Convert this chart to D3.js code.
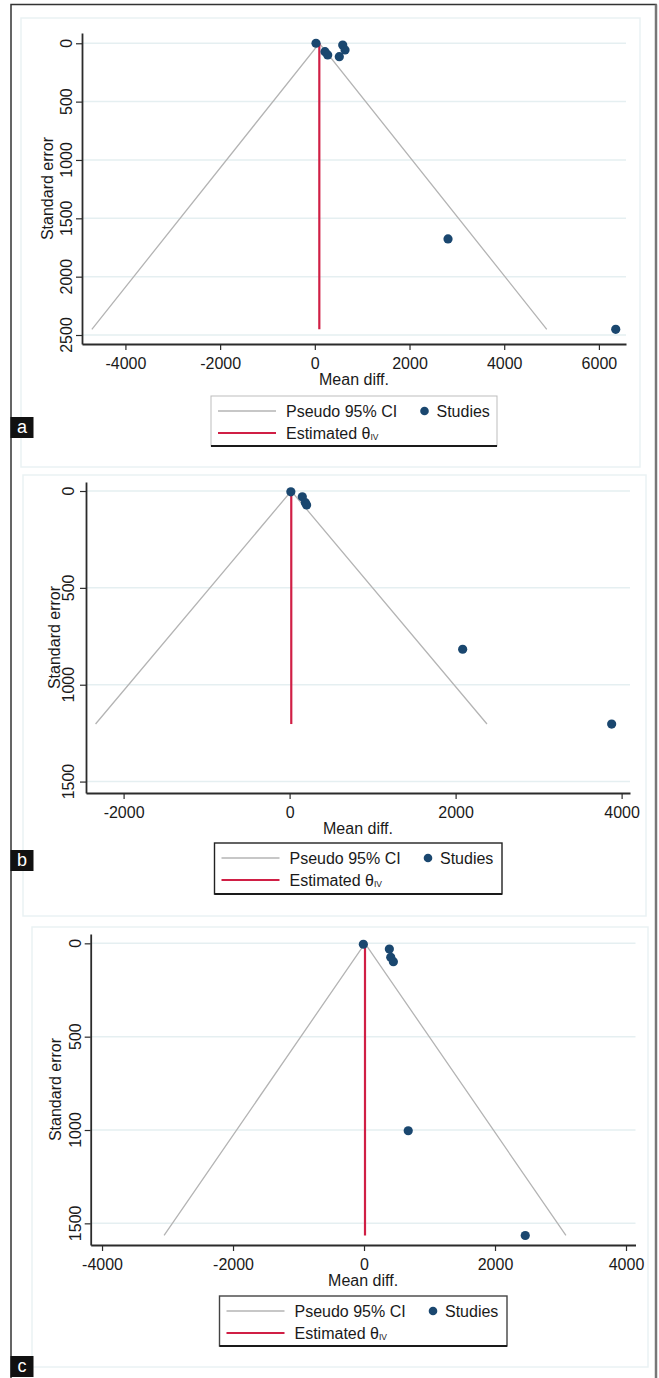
<!DOCTYPE html>
<html>
<head>
<meta charset="utf-8">
<script src="https://cdn.jsdelivr.net/npm/d3@7"></script>
<style>
  html, body { margin: 0; padding: 0; background: #fff; }
  svg { display: block; }
  text { font-family: "Liberation Sans", Arial, Helvetica, sans-serif; fill: #1a1a1a; }
</style>
</head>
<body>
<svg id="chart" width="659" height="1378"></svg>
<script>
// ---------------- DATA ----------------
// Panel a
const aMeanDiff = [25, 215, 272, 589, 638, 517, 2813, 6355];
const aSE       = [0, 72, 100, 15, 57, 115, 1677, 2451];
const aTheta    = 95;
const aXTicks   = [-4000, -2000, 0, 2000, 4000, 6000];
const aYTicks   = [0, 500, 1000, 1500, 2000, 2500];

// Panel b
const bMeanDiff = [15, 153, 190, 205, 2085, 3880];
const bSE       = [4, 30, 60, 72, 817, 1203];
const bTheta    = 20;
const bXTicks   = [-2000, 0, 2000, 4000];
const bYTicks   = [0, 500, 1000, 1500];

// Panel c
const cMeanDiff = [-10, 387, 408, 448, 675, 2462];
const cSE       = [5, 31, 75, 98, 1004, 1565];
const cTheta    = 15;
const cXTicks   = [-4000, -2000, 0, 2000, 4000];
const cYTicks   = [0, 500, 1000, 1500];

const panelLabels = ["a", "b", "c"];
const legendCI    = "Pseudo 95% CI";
const legendStudy = "Studies";
const legendEst   = "Estimated θ";
const legendSub   = "IV";
const xTitle      = "Mean diff.";
const yTitle      = "Standard error";
const z95         = 1.96;

// ---------------- LAYOUT ----------------
const panels = [
  { tag: panelLabels[0], md: aMeanDiff, se: aSE, theta: aTheta, xt: aXTicks, yt: aYTicks,
    xDom: [-4917, 6572], yDom: [-88, 2577], box: {l: 82, r: 626, t: 33, b: 344},
    yLabX: 71.5, yTitleX: 53, frame: [21, 18, 640, 467],
    legend: {x: 211, y: 396, w: 286, h: 50, style: "a"}, tagY: 417 },
  { tag: panelLabels[1], md: bMeanDiff, se: bSE, theta: bTheta, xt: bXTicks, yt: bYTicks,
    xDom: [-2453, 4101], yDom: [-46.5, 1559], box: {l: 86, r: 630, t: 482, b: 793},
    yLabX: 74, yTitleX: 60, frame: [23, 475, 646, 916],
    legend: {x: 214.5, y: 843, w: 287.5, h: 51, style: "b"}, tagY: 850 },
  { tag: panelLabels[2], md: cMeanDiff, se: cSE, theta: cTheta, xt: cXTicks, yt: cYTicks,
    xDom: [-4173, 4145], yDom: [-50, 1616], box: {l: 90.7, r: 635.5, t: 934, b: 1245},
    yLabX: 80.5, yTitleX: 61, frame: [32, 927, 648, 1367],
    legend: {x: 219.5, y: 1296, w: 287.5, h: 50, style: "c"}, tagY: 1356 }
];

const svg = d3.select("#chart");
const FS = 16;
const gridCol = "#e5eff1";
const axisCol = "#2b2b2b";
const navy = "#1a476f";
const red = "#d01f45";
const ciCol = "#b4b4b4";

// outer border
svg.append("rect").attr("x", 11).attr("y", 4.5).attr("width", 645).attr("height", 1390)
  .attr("fill", "none").attr("stroke", "#333").attr("stroke-width", 1.5);
svg.append("line").attr("x1", 656).attr("x2", 656).attr("y1", 4.5).attr("y2", 1378)
  .attr("stroke", "#777").attr("stroke-width", 2.5);

panels.forEach(p => {
  const g = svg.append("g");
  // light graph-region frame
  g.append("rect").attr("x", p.frame[0]).attr("y", p.frame[1])
    .attr("width", p.frame[2] - p.frame[0]).attr("height", p.frame[3] - p.frame[1])
    .attr("fill", "#fff").attr("stroke", "#eaf2f4").attr("stroke-width", 1.5);

  const x = d3.scaleLinear().domain(p.xDom).range([p.box.l, p.box.r]);
  const y = d3.scaleLinear().domain(p.yDom).range([p.box.t, p.box.b]);

  // gridlines
  g.selectAll(".grid").data(p.yt).enter().append("line")
    .attr("x1", p.box.l).attr("x2", p.box.r)
    .attr("y1", d => y(d)).attr("y2", d => y(d))
    .attr("stroke", gridCol).attr("stroke-width", 1.5);

  // funnel (pseudo 95% CI)
  const seMax = d3.max(p.se);
  const funnel = [[p.theta - z95 * seMax, seMax], [p.theta, 0], [p.theta + z95 * seMax, seMax]];
  g.append("path").datum(funnel)
    .attr("d", d3.line().x(d => x(d[0])).y(d => y(d[1])))
    .attr("fill", "none").attr("stroke", ciCol).attr("stroke-width", 1.3);

  // estimated theta line
  g.append("line").attr("x1", x(p.theta)).attr("x2", x(p.theta))
    .attr("y1", y(0)).attr("y2", y(seMax))
    .attr("stroke", red).attr("stroke-width", 2.2);

  // studies
  g.selectAll(".pt").data(p.md.map((m, i) => [m, p.se[i]])).enter().append("circle")
    .attr("cx", d => x(d[0])).attr("cy", d => y(d[1])).attr("r", 4.6)
    .attr("fill", navy);

  // x axis
  const xa = g.append("g").attr("transform", `translate(0,${p.box.b})`)
    .call(d3.axisBottom(x).tickValues(p.xt).tickFormat(d3.format("d")).tickSizeInner(6).tickSizeOuter(0).tickPadding(8));
  xa.select(".domain").attr("stroke", axisCol).attr("stroke-width", 1.8);
  xa.selectAll(".tick line").attr("stroke", axisCol).attr("stroke-width", 1.2);
  xa.selectAll(".tick text").attr("font-size", FS).attr("fill", "#1a1a1a")
    .attr("font-family", '"Liberation Sans", Arial, sans-serif').text(d => d < 0 ? "-" + Math.abs(d) : d);

  // y axis
  const ya = g.append("g").attr("transform", `translate(${p.box.l},0)`)
    .call(d3.axisLeft(y).tickValues(p.yt).tickSizeInner(6).tickSizeOuter(0).tickFormat(""));
  ya.select(".domain").attr("stroke", axisCol).attr("stroke-width", 1.8);
  ya.selectAll(".tick line").attr("stroke", axisCol).attr("stroke-width", 1.2);
  g.selectAll(".ylab").data(p.yt).enter().append("text")
    .attr("transform", d => `translate(${p.yLabX},${y(d)}) rotate(-90)`)
    .attr("text-anchor", "middle").attr("font-size", FS).text(d => d);

  // titles
  g.append("text").attr("x", (p.box.l + p.box.r) / 2).attr("y", p.box.b + 41)
    .attr("text-anchor", "middle").attr("font-size", FS).text(xTitle);
  g.append("text")
    .attr("transform", `translate(${p.yTitleX},${(p.box.t + p.box.b) / 2}) rotate(-90)`)
    .attr("text-anchor", "middle").attr("font-size", FS).text(yTitle);

  // legend
  const L = p.legend;
  const lg = g.append("g").attr("transform", `translate(${L.x},${L.y})`);
  const sideCol = L.style === "a" ? "#bdbdbd" : (L.style === "b" ? "#222" : "#444");
  lg.append("rect").attr("x", 0).attr("y", 0).attr("width", L.w).attr("height", L.h)
    .attr("fill", "#fff").attr("stroke", sideCol).attr("stroke-width", L.style === "a" ? 1 : 1.4);
  lg.append("line").attr("x1", 0).attr("x2", L.w).attr("y1", L.h).attr("y2", L.h)
    .attr("stroke", "#1a1a1a").attr("stroke-width", 2);
  const r1 = 15, r2 = 37;
  lg.append("line").attr("x1", 7).attr("x2", 65).attr("y1", r1).attr("y2", r1)
    .attr("stroke", ciCol).attr("stroke-width", 1.5);
  lg.append("text").attr("x", 75).attr("y", r1 + 5.5).attr("font-size", FS).text(legendCI);
  lg.append("circle").attr("cx", 213.5).attr("cy", r1).attr("r", 4.3).attr("fill", navy);
  lg.append("text").attr("x", 225.5).attr("y", r1 + 5.5).attr("font-size", FS).text(legendStudy);
  lg.append("line").attr("x1", 7).attr("x2", 65).attr("y1", r2).attr("y2", r2)
    .attr("stroke", red).attr("stroke-width", 2);
  const et = lg.append("text").attr("x", 75).attr("y", r2 + 5.5).attr("font-size", FS);
  et.append("tspan").text(legendEst);
  et.append("tspan").attr("font-size", 8.5).attr("dy", 1.5).text(legendSub);

  // panel tag
  svg.append("rect").attr("x", 10.5).attr("y", p.tagY).attr("width", 23).attr("height", 21)
    .attr("fill", "#111");
  svg.append("text").attr("x", 22).attr("y", p.tagY + 15.5).attr("text-anchor", "middle")
    .attr("font-size", 18).style("fill", "#fff").text(p.tag);
});
</script>
</body>
</html>
